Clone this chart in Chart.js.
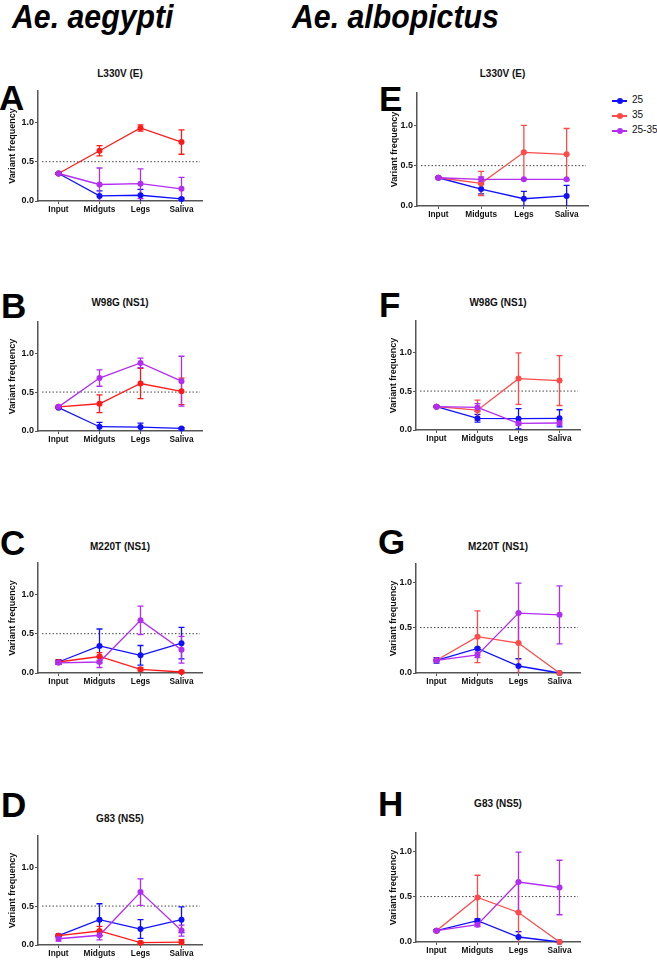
<!DOCTYPE html>
<html>
<head>
<meta charset="utf-8">
<script src="https://cdn.jsdelivr.net/npm/chart.js@4.4.1/dist/chart.umd.min.js"></script>
<style>
  html, body { margin: 0; padding: 0; background: #fff; }
  body { width: 657px; height: 960px; position: relative; overflow: hidden; font-family: "Liberation Sans", Arial, sans-serif; }
  canvas { position: absolute; }
  .heading { position: absolute; font-size: 34px; line-height: 34px; font-weight: bold; font-style: italic; color: #000; transform-origin: 0 0; transform: scaleX(0.89); white-space: nowrap; }
  .letter { position: absolute; font-size: 35px; line-height: 35px; font-weight: bold; color: #000; }
  .ptitle { position: absolute; font-size: 10px; line-height: 12px; font-weight: bold; color: #111; transform: translateX(-50%); white-space: nowrap; }
  .legend { position: absolute; left: 612px; top: 93px; font-size: 10px; color: #111; }
  .legend .row { position: relative; height: 15px; }
  .legend .ln { position: absolute; left: 0; top: 7px; width: 15px; height: 1.5px; }
  .legend .dot { position: absolute; left: 4.5px; top: 5px; width: 6px; height: 6px; border-radius: 50%; }
  .legend .tx { position: absolute; left: 20px; top: 1px; white-space: nowrap; }
</style>
</head>
<body>
<div class="heading" style="left:12px; top:-1px;">Ae. aegypti</div>
<div class="heading" style="left:292px; top:-1px;">Ae. albopictus</div>
<div id="legend" class="legend"></div>

<script>
// ---------- DATA ----------
const categories = ['Input', 'Midguts', 'Legs', 'Saliva'];
const seriesNames = ['25', '35', '25-35'];
const yTickValues = [0, 0.5, 1.0];
const threshold = 0.5;
const panelTitles = ['L330V (E)', 'W98G (NS1)', 'M220T (NS1)', 'G83 (NS5)'];

// Ae. aegypti
const A_25 = [0.35, 0.065, 0.073, 0.026];   const A_25_err = [0.01, 0.065, 0.075, 0.015];
const A_35 = [0.35, 0.64, 0.93, 0.75];      const A_35_err = [0.01, 0.065, 0.04, 0.155];
const A_2535 = [0.35, 0.21, 0.22, 0.155];   const A_2535_err = [0.01, 0.21, 0.19, 0.145];

const B_25 = [0.30, 0.055, 0.05, 0.033];    const B_25_err = [0.01, 0.055, 0.05, 0.01];
const B_35 = [0.31, 0.35, 0.61, 0.51];      const B_35_err = [0.01, 0.115, 0.195, 0.17];
const B_2535 = [0.31, 0.68, 0.875, 0.64];   const B_2535_err = [0.01, 0.105, 0.06, 0.32];

const C_25 = [0.14, 0.345, 0.225, 0.38];    const C_25_err = [0.03, 0.215, 0.125, 0.2];
const C_35 = [0.14, 0.21, 0.047, 0.013];    const C_35_err = [0.02, 0.05, 0.02, 0.01];
const C_2535 = [0.13, 0.14, 0.67, 0.295];   const C_2535_err = [0.02, 0.07, 0.18, 0.17];

const D_25 = [0.12, 0.325, 0.205, 0.325];   const D_25_err = [0.02, 0.205, 0.12, 0.165];
const D_35 = [0.12, 0.18, 0.03, 0.038];     const D_35_err = [0.01, 0.06, 0.01, 0.03];
const D_2535 = [0.08, 0.125, 0.68, 0.185];  const D_2535_err = [0.03, 0.06, 0.17, 0.07];

// Ae. albopictus
const E_25 = [0.35, 0.21, 0.09, 0.125];     const E_25_err = [0.01, 0.06, 0.09, 0.13];
const E_35 = [0.35, 0.28, 0.665, 0.64];     const E_35_err = [0.01, 0.15, 0.335, 0.32];
const E_2535 = [0.35, 0.33, 0.33, 0.33];    const E_2535_err = [0.01, 0.03, 0, 0];

const F_25 = [0.30, 0.15, 0.145, 0.15];     const F_25_err = [0.01, 0.05, 0.13, 0.11];
const F_35 = [0.30, 0.255, 0.66, 0.635];    const F_35_err = [0.01, 0.13, 0.33, 0.32];
const F_2535 = [0.30, 0.29, 0.085, 0.09];   const F_2535_err = [0.01, 0.05, 0.02, 0.03];

const G_25 = [0.14, 0.27, 0.077, 0];        const G_25_err = [0.03, 0.01, 0.08, 0];
const G_35 = [0.14, 0.40, 0.33, 0];         const G_35_err = [0.01, 0.285, 0.33, 0];
const G_2535 = [0.14, 0.20, 0.66, 0.64];    const G_2535_err = [0.01, 0.03, 0.33, 0.32];

const H_25 = [0.125, 0.235, 0.055, 0];      const H_25_err = [0.01, 0.02, 0.06, 0];
const H_35 = [0.125, 0.49, 0.325, 0];       const H_35_err = [0.01, 0.245, 0.33, 0];
const H_2535 = [0.125, 0.19, 0.66, 0.60];   const H_2535_err = [0.01, 0.02, 0.33, 0.30];

// ---------- STYLE / LAYOUT ----------
const FONT = '"Liberation Sans", Arial, sans-serif';
const BLUE = '#1010ff', RED_L = '#ff1a1a', RED_R = '#ff4a4a', PURPLE = '#b22cf2';

const panels = [
  {letter:'A', title:panelTitles[0], left:0,   axisX:38,  axisEnd:202, topY:91,    zeroY:200.7, max:1.4, titleY:68,  letterTop:86,  letterX:-1,
   vals:[A_25, A_35, A_2535], errs:[A_25_err, A_35_err, A_2535_err], colors:[BLUE, RED_L, PURPLE]},
  {letter:'B', title:panelTitles[1], left:0,   axisX:38,  axisEnd:202, topY:321.7, zeroY:430.7, max:1.4, titleY:297, letterTop:294, letterX:1,
   vals:[B_25, B_35, B_2535], errs:[B_25_err, B_35_err, B_2535_err], colors:[BLUE, RED_L, PURPLE]},
  {letter:'C', title:panelTitles[2], left:0,   axisX:38,  axisEnd:202, topY:563,   zeroY:673,   max:1.4, titleY:541, letterTop:531, letterX:0,
   vals:[C_25, C_35, C_2535], errs:[C_25_err, C_35_err, C_2535_err], colors:[BLUE, RED_L, PURPLE]},
  {letter:'D', title:panelTitles[3], left:0,   axisX:38,  axisEnd:202, topY:836,   zeroY:945.3, max:1.4, titleY:813, letterTop:793, letterX:1,
   vals:[D_25, D_35, D_2535], errs:[D_25_err, D_35_err, D_2535_err], colors:[BLUE, RED_L, PURPLE]},
  {letter:'E', title:panelTitles[0], left:382, axisX:417, axisEnd:588, topY:92.7,  zeroY:205.7, max:1.4, titleY:68,  letterTop:87,  letterX:379,
   vals:[E_25, E_35, E_2535], errs:[E_25_err, E_35_err, E_2535_err], colors:[BLUE, RED_R, PURPLE]},
  {letter:'F', title:panelTitles[1], left:381, axisX:416, axisEnd:580, topY:320.7, zeroY:429.3, max:1.4, titleY:297, letterTop:293, letterX:379,
   vals:[F_25, F_35, F_2535], errs:[F_25_err, F_35_err, F_2535_err], colors:[BLUE, RED_R, PURPLE]},
  {letter:'G', title:panelTitles[2], left:381, axisX:416, axisEnd:580, topY:564,   zeroY:673,   max:1.2, titleY:541, letterTop:530, letterX:378,
   vals:[G_25, G_35, G_2535], errs:[G_25_err, G_35_err, G_2535_err], colors:[BLUE, RED_R, PURPLE]},
  {letter:'H', title:panelTitles[3], left:381, axisX:416, axisEnd:580, topY:832.7, zeroY:941.7, max:1.2, titleY:798, letterTop:792, letterX:378,
   vals:[H_25, H_35, H_2535], errs:[H_25_err, H_35_err, H_2535_err], colors:[BLUE, RED_R, PURPLE]},
];

const PAD_TOP = 8, PAD_RIGHT = 6, X_AXIS_H = 20;

const errorBarPlugin = {
  id: 'errorBars',
  beforeDatasetsDraw(chart) {
    const {ctx, scales: {x, y}} = chart;
    ctx.save();
    chart.data.datasets.forEach((ds) => {
      ctx.strokeStyle = ds.borderColor;
      ctx.lineWidth = 1.3;
      ds.errors.forEach((e, j) => {
        if (!e) return;
        const v = ds.data[j];
        const px = x.getPixelForValue(j);
        const pTop = y.getPixelForValue(v + e);
        const pBot = y.getPixelForValue(Math.max(0, v - e));
        ctx.beginPath();
        ctx.moveTo(px, pTop); ctx.lineTo(px, pBot);
        ctx.moveTo(px - 3, pTop); ctx.lineTo(px + 3, pTop);
        if (v - e > 0) { ctx.moveTo(px - 3, pBot); ctx.lineTo(px + 3, pBot); }
        ctx.stroke();
      });
    });
    ctx.restore();
  }
};

const thresholdPlugin = {
  id: 'thresholdLine',
  beforeDatasetsDraw(chart) {
    const {ctx, chartArea, scales: {y}} = chart;
    const py = y.getPixelForValue(threshold);
    ctx.save();
    ctx.strokeStyle = '#444';
    ctx.lineWidth = 1;
    ctx.setLineDash([1.5, 2]);
    ctx.beginPath();
    ctx.moveTo(chartArea.left + 4, py);
    ctx.lineTo(chartArea.right - 2, py);
    ctx.stroke();
    ctx.restore();
  }
};

panels.forEach((p) => {
  // panel letter
  const L = document.createElement('div');
  L.className = 'letter';
  L.style.left = p.letterX + 'px';
  L.style.top = (p.letterTop - 6) + 'px';
  L.textContent = p.letter;
  document.body.appendChild(L);

  // panel title
  const T = document.createElement('div');
  T.className = 'ptitle';
  T.style.left = ((p.axisX + p.axisEnd) / 2) + 'px';
  T.style.top = p.titleY + 'px';
  T.textContent = p.title;
  document.body.appendChild(T);

  const canvasTop = p.topY - PAD_TOP;
  const w = Math.round(p.axisEnd + PAD_RIGHT - p.left);
  const h = Math.round(p.zeroY + X_AXIS_H - canvasTop);
  const yW = p.axisX - p.left;

  const cv = document.createElement('canvas');
  cv.width = w; cv.height = h;
  cv.style.left = p.left + 'px';
  cv.style.top = canvasTop + 'px';
  cv.style.width = w + 'px'; cv.style.height = h + 'px';
  document.body.appendChild(cv);

  const datasets = seriesNames.map((name, i) => ({
    label: name,
    data: p.vals[i],
    errors: p.errs[i],
    borderColor: p.colors[i],
    backgroundColor: p.colors[i],
    pointBackgroundColor: p.colors[i],
    pointBorderColor: p.colors[i],
    pointRadius: 3,
    pointBorderWidth: 0,
    borderWidth: 1.3,
    tension: 0,
    clip: false,
    order: 2 - i
  }));

  new Chart(cv, {
    type: 'line',
    data: { labels: categories, datasets },
    plugins: [thresholdPlugin, errorBarPlugin],
    options: {
      responsive: false,
      animation: false,
      events: [],
      layout: { padding: { top: PAD_TOP, right: PAD_RIGHT, left: 0, bottom: 0 } },
      plugins: { legend: { display: false }, tooltip: { enabled: false }, title: { display: false } },
      scales: {
        x: {
          type: 'category',
          offset: true,
          grid: { display: true, drawOnChartArea: false, drawTicks: true, tickLength: 3, color: '#555', offset: false },
          border: { display: true, color: '#555', width: 1.5 },
          ticks: { color: '#111', font: { family: FONT, size: 8.3, weight: 'bold' }, padding: 1, maxRotation: 0, autoSkip: false },
          afterFit: (s) => { s.height = X_AXIS_H; }
        },
        y: {
          min: 0, max: p.max,
          grid: { display: true, drawOnChartArea: false, drawTicks: true, tickLength: 3, color: '#555' },
          border: { display: true, color: '#555', width: 1.5 },
          afterBuildTicks: (s) => { s.ticks = yTickValues.map(v => ({ value: v })); },
          ticks: { color: '#111', font: { family: FONT, size: 9, weight: 'bold' }, padding: 1,
                   callback: (v) => Number(v).toFixed(1) },
          title: { display: true, text: 'Variant frequency', color: '#111',
                   font: { family: FONT, size: 9, weight: 'bold' }, padding: { top: 7, bottom: 0 } },
          afterFit: (s) => { s.width = yW; }
        }
      }
    }
  });
});

// legend (only once, beside panel E)
const legendColors = [BLUE, RED_R, PURPLE];
const lg = document.getElementById('legend');
seriesNames.forEach((name, i) => {
  const row = document.createElement('div');
  row.className = 'row';
  row.innerHTML = '<span class="ln" style="background:' + legendColors[i] + '"></span>' +
                  '<span class="dot" style="background:' + legendColors[i] + '"></span>' +
                  '<span class="tx">' + name + '</span>';
  lg.appendChild(row);
});
</script>
</body>
</html>
